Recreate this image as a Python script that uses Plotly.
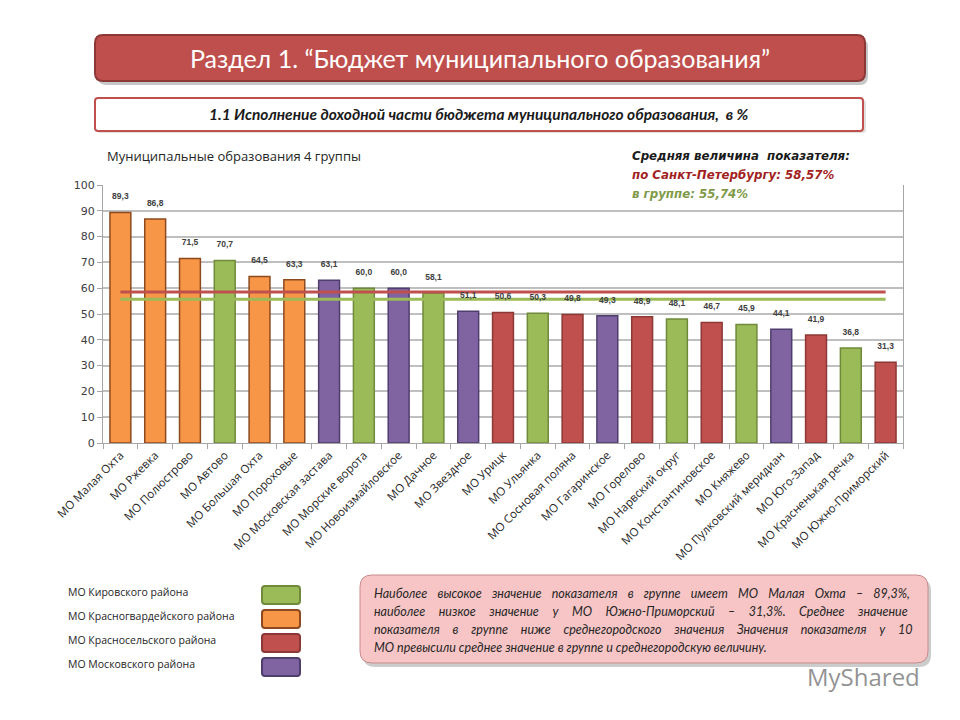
import plotly.graph_objects as go

# ---------------- data ----------------
names = ["МО Малая Охта", "МО Ржевка", "МО Полюстрово", "МО Автово", "МО Большая Охта",
         "МО Пороховые", "МО Московская застава", "МО Морские ворота", "МО Новоизмайловское",
         "МО Дачное", "МО Звездное", "МО Урицк", "МО Ульянка", "МО Сосновая поляна",
         "МО Гагаринское", "МО Горелово", "МО Нарвский округ", "МО Константиновское",
         "МО Княжево", "МО Пулковский меридиан", "МО Юго-Запад", "МО Красненькая речка",
         "МО Южно-Приморский"]
values = [89.3, 86.8, 71.5, 70.7, 64.5, 63.3, 63.1, 60.0, 60.0, 58.1, 51.1, 50.6, 50.3,
          49.8, 49.3, 48.9, 48.1, 46.7, 45.9, 44.1, 41.9, 36.8, 31.3]
districts = ["Красногвардейский", "Красногвардейский", "Красногвардейский", "Кировский",
             "Красногвардейский", "Красногвардейский", "Московский", "Кировский", "Московский",
             "Кировский", "Московский", "Красносельский", "Кировский", "Красносельский",
             "Московский", "Красносельский", "Кировский", "Красносельский", "Кировский",
             "Московский", "Красносельский", "Кировский", "Красносельский"]
legend_keys = ["Кировский", "Красногвардейский", "Красносельский", "Московский"]
legend_labels = ["МО Кировского района", "МО Красногвардейского района",
                 "МО Красносельского района", "МО Московского района"]
spb_avg = 58.57
group_avg = 55.74
y_ticks = [0, 10, 20, 30, 40, 50, 60, 70, 80, 90, 100]

title_text = "Раздел 1. “Бюджет муниципального образования”"
subtitle_text = "1.1 Исполнение доходной части бюджета муниципального образования,  в %"
group_text = "Муниципальные образования 4 группы"
note_lines = [
    "Наиболее высокое значение показателя в группе имеет МО Малая Охта – 89,3%,",
    "наиболее низкое значение у МО Южно-Приморский – 31,3%. Среднее значение",
    "показателя в группе ниже среднегородского значения Значения показателя у 10",
    "МО превысили среднее значение в группе и среднегородскую величину.",
]

# ---------------- styles ----------------
fill = {"Кировский": "#9BBB59", "Красногвардейский": "#F79646",
        "Красносельский": "#C0504D", "Московский": "#8064A2"}
edge = {"Кировский": "#6F8A3A", "Красногвардейский": "#8E4A1E",
        "Красносельский": "#8C3836", "Московский": "#4F3D6E"}
note_spacing = [7.2, 10.6, 9.8, 0]

W, H = 960, 720
OFF = 8  # page body margin
L, R, T, B = 103, 903, 185, 443


def px(x):
    return (x - L) / (R - L)


def py(y):
    return (B - y) / (B - T)


def rrect(x0, y0, x1, y1, r):
    pts = [
        ("M", [(x0 + r, y0)]), ("L", [(x1 - r, y0)]), ("Q", [(x1, y0), (x1, y0 + r)]),
        ("L", [(x1, y1 - r)]), ("Q", [(x1, y1), (x1 - r, y1)]), ("L", [(x0 + r, y1)]),
        ("Q", [(x0, y1), (x0, y1 - r)]), ("L", [(x0, y0 + r)]), ("Q", [(x0, y0), (x0 + r, y0)]),
    ]
    s = ""
    for cmd, ps in pts:
        s += cmd + " " + " ".join(f"{px(a):.5f},{py(b):.5f}" for a, b in ps) + " "
    return s + "Z"


fig = go.Figure()
fig.add_trace(go.Bar(
    x=names, y=values,
    marker=dict(color=[fill[d] for d in districts],
                line=dict(color=[edge[d] for d in districts], width=1.5)),
    hoverinfo="x+y",
))
fig.add_trace(go.Scatter(x=names, y=[spb_avg] * len(names), mode="lines",
                         line=dict(color="#C0504D", width=3), hoverinfo="skip"))
fig.add_trace(go.Scatter(x=names, y=[group_avg] * len(names), mode="lines",
                         line=dict(color="#9BBB59", width=3), hoverinfo="skip"))
# data labels, lifted a little above the bar tops
fig.add_trace(go.Scatter(
    x=names, y=values, mode="markers+text", marker=dict(size=16, opacity=0),
    texttemplate="%{y:.1f}", textposition="top center", cliponaxis=False,
    textfont=dict(family="Liberation Sans", size=8.5, color="#404040", weight="bold"),
    hoverinfo="skip",
))

shapes = []
ann = []

# title banner
shapes.append(dict(type="path", xref="paper", yref="paper", path=rrect(98, 39, 868, 85, 8),
                   fillcolor="rgba(0,0,0,0.22)", line=dict(width=0), layer="below"))
shapes.append(dict(type="path", xref="paper", yref="paper", path=rrect(95, 35, 865, 81, 8),
                   fillcolor="#BF4F4C", line=dict(color="#8C3836", width=2)))
ann.append(dict(text=title_text, x=px(480), y=py(58), xref="paper", yref="paper",
                showarrow=False, xanchor="center", yanchor="middle",
                font=dict(family="Lato", size=25, color="white")))

# subtitle box
shapes.append(dict(type="path", xref="paper", yref="paper", path=rrect(97, 100, 866, 133, 3),
                   fillcolor="rgba(0,0,0,0.12)", line=dict(width=0), layer="below"))
shapes.append(dict(type="path", xref="paper", yref="paper", path=rrect(95, 98, 863, 131, 3),
                   fillcolor="white", line=dict(color="#C0504D", width=2)))
ann.append(dict(text="<b><i>" + subtitle_text + "</i></b>", x=px(479), y=py(114),
                xref="paper", yref="paper", showarrow=False, xanchor="center", yanchor="middle",
                font=dict(family="Lato", size=15.5, color="#1a1a1a")))

# group heading
ann.append(dict(text=group_text, x=px(105), y=py(156), xref="paper", yref="paper",
                showarrow=False, xanchor="left", yanchor="middle",
                font=dict(family="Open Sans", size=13, color="#262626")))

# averages text
fmt = lambda v: f"{v:.2f}".replace(".", ",")
ann.append(dict(text="<b><i>Средняя величина  показателя:</i></b>", x=px(630), y=py(156),
                xref="paper", yref="paper", showarrow=False, xanchor="left", yanchor="middle",
                font=dict(family="DejaVu Sans", size=11.8, color="#1a1a1a")))
ann.append(dict(text=f"<b><i>по Санкт-Петербургу: {fmt(spb_avg)}%</i></b>", x=px(630),
                y=py(175), xref="paper", yref="paper", showarrow=False, xanchor="left",
                yanchor="middle", font=dict(family="DejaVu Sans", size=11.8, color="#A21F22")))
ann.append(dict(text=f"<b><i>в группе: {fmt(group_avg)}%</i></b>", x=px(630), y=py(194),
                xref="paper", yref="paper", showarrow=False, xanchor="left", yanchor="middle",
                font=dict(family="DejaVu Sans", size=11.8, color="#7F9A48")))

# custom legend
for i, (k, lab) in enumerate(zip(legend_keys, legend_labels)):
    cy = 595 + i * 24
    ann.append(dict(text=lab, x=px(66), y=py(cy - 3), xref="paper", yref="paper",
                    showarrow=False, xanchor="left", yanchor="middle",
                    font=dict(family="Open Sans", size=10.5, color="#262626")))
    shapes.append(dict(type="path", xref="paper", yref="paper",
                       path=rrect(262, cy - 9, 300, cy + 9, 3),
                       fillcolor=fill[k], line=dict(color=edge[k], width=2)))

# note box
shapes.append(dict(type="path", xref="paper", yref="paper", path=rrect(363, 579, 931, 667, 12),
                   fillcolor="rgba(0,0,0,0.2)", line=dict(width=0), layer="below"))
shapes.append(dict(type="path", xref="paper", yref="paper", path=rrect(360, 575, 928, 663, 12),
                   fillcolor="#F7C5C5", line=dict(color="#C98C8C", width=1)))
for i, line in enumerate(note_lines):
    txt = f'<span style="word-spacing:{note_spacing[i]}px"><i>{line}</i></span>'
    ann.append(dict(text=txt, x=px(372), y=py(593 + i * 18.3),
                    xref="paper", yref="paper", showarrow=False, xanchor="left",
                    yanchor="middle",
                    font=dict(family="Lato", size=12.5, color="#262626")))

# watermark
ann.append(dict(text="MyShared", x=px(922), y=py(676), xref="paper", yref="paper",
                showarrow=False, xanchor="right", yanchor="middle",
                font=dict(family="Open Sans", size=24, color="rgba(110,110,110,0.75)")))

fig.update_layout(
    width=W, height=H,
    margin=dict(l=L - OFF, r=W - (R - OFF), t=T - OFF, b=H - (B - OFF)),
    paper_bgcolor="white", plot_bgcolor="white",
    showlegend=False, bargap=0.4, separators=", ",
    shapes=shapes, annotations=ann,
    xaxis=dict(type="category", range=[-0.5, len(names) - 0.5], tickangle=-45,
               showline=True, linecolor="#A6A6A6",
               linewidth=1, ticks="outside", tickson="boundaries", ticklen=5,
               tickcolor="#A6A6A6", tickfont=dict(family="Open Sans", size=11.5, color="#262626"),
               showgrid=False, mirror=False),
    yaxis=dict(range=[0, 100], tickvals=y_ticks, showgrid=True, gridcolor="#BFBFBF",
               gridwidth=1.5, showline=True, linecolor="#A6A6A6", linewidth=1,
               mirror=True, ticks="outside", ticklen=5, tickcolor="#A6A6A6",
               tickfont=dict(family="DejaVu Sans", size=11, color="#404040"), zeroline=False),
)

fig.write_html("out.html")
